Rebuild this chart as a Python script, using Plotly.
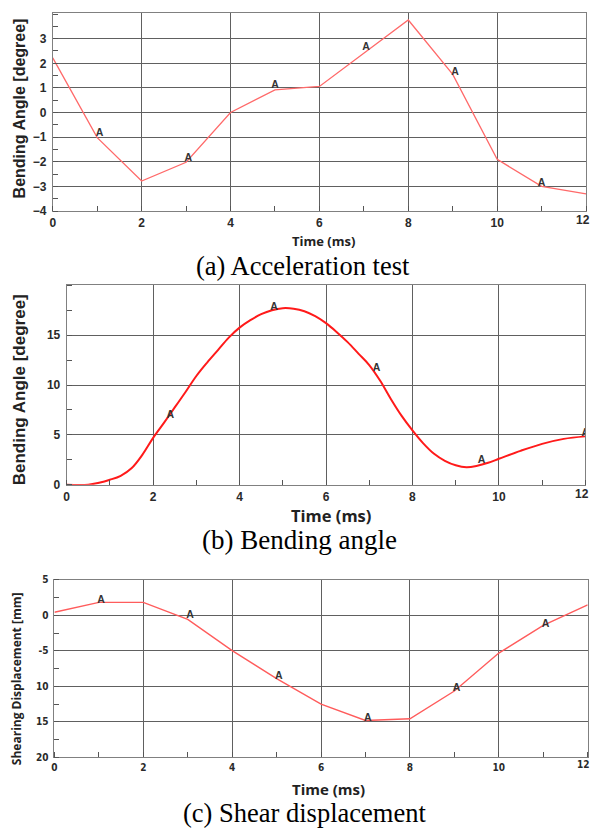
import plotly.graph_objects as go

# ---------- Panel (a): Acceleration test ----------
a_time = [0, 1, 2, 3, 4, 5, 6, 7, 8, 9, 10, 11, 12]
a_angle = [2.22, -1.02, -2.78, -2.02, 0.0, 0.92, 1.06, 2.42, 3.76, 1.55, -1.9, -3.0, -3.3]
a_lab_x = [1.05, 3.05, 5.0, 7.05, 9.05, 11.0]
a_lab_y = [-0.85, -1.85, 1.1, 2.65, 1.62, -2.88]

# ---------- Panel (b): Bending angle ----------
b_time = [0, 0.5, 0.75, 1.0, 1.25, 1.5, 1.75, 2.0, 2.25, 2.5, 2.75, 3.0, 3.25, 3.5, 3.75,
          4.0, 4.25, 4.5, 4.75, 5.0, 5.25, 5.5, 5.75, 6.0, 6.25, 6.5, 6.75, 7.0, 7.25,
          7.5, 7.75, 8.0, 8.25, 8.5, 8.75, 9.0, 9.25, 9.5, 9.75, 10.0, 10.5, 11.0, 11.5, 12.0]
b_angle = [0.0, 0.0, 0.2, 0.5, 0.9, 1.65, 3.0, 4.7, 6.2, 7.75, 9.3, 10.9, 12.25, 13.5, 14.75,
           15.75, 16.5, 17.1, 17.5, 17.7, 17.65, 17.4, 16.9, 16.2, 15.3, 14.3, 13.15, 12.0, 10.45,
           8.6, 6.9, 5.45, 4.15, 3.1, 2.4, 1.95, 1.75, 1.9, 2.2, 2.6, 3.4, 4.1, 4.6, 4.85]
b_lab_x = [2.4, 4.8, 7.17, 9.6, 12.0]
b_lab_y = [7.0, 17.8, 11.7, 2.4, 5.1]

# ---------- Panel (c): Shear displacement ----------
c_time = [0, 1, 2, 3, 4, 5, 6, 7, 8, 9, 10, 11, 12]
c_disp = [0.45, 1.85, 1.85, -0.55, -4.95, -8.9, -12.5, -14.8, -14.55, -10.65, -5.3, -1.4, 1.5]
c_lab_x = [1.05, 3.05, 5.05, 7.05, 9.05, 11.05]
c_lab_y = [2.15, -0.05, -8.6, -14.45, -10.3, -1.2]
c_ytick_vals = [5, 0, -5, -10, -15, -20]
c_ytick_text = ["5", "0", "-5", "10", "15", "20"]

x_ticks = [0, 2, 4, 6, 8, 10, 12]
x_tick_text = ["0", "2", "4", "6", "8", "10", "12"]

fig = go.Figure()

lab_font = dict(family="Arial", size=10.5, color="#333333", weight="bold")

fig.add_trace(go.Scatter(x=a_time, y=a_angle, mode="lines",
                         line=dict(color="#ff6a6a", width=1.3), xaxis="x", yaxis="y"))
fig.add_trace(go.Scatter(x=a_lab_x, y=a_lab_y, mode="text", text=["A"] * len(a_lab_x),
                         textfont=lab_font, xaxis="x", yaxis="y"))

fig.add_trace(go.Scatter(x=b_time, y=b_angle, mode="lines", line_shape="spline",
                         line=dict(color="#ff1a1a", width=2), xaxis="x2", yaxis="y2"))
fig.add_trace(go.Scatter(x=b_lab_x, y=b_lab_y, mode="text", text=["A"] * len(b_lab_x),
                         textfont=lab_font, xaxis="x2", yaxis="y2"))

fig.add_trace(go.Scatter(x=c_time, y=c_disp, mode="lines",
                         line=dict(color="#ff5c5c", width=1.4), xaxis="x3", yaxis="y3"))
fig.add_trace(go.Scatter(x=c_lab_x, y=c_lab_y, mode="text", text=["A"] * len(c_lab_x),
                         textfont=lab_font, xaxis="x3", yaxis="y3"))

grid = "#606060"
border = "#808080"
tickf = dict(family="Arial", size=12, color="#2a2a2a", weight="bold")
tickf_c = dict(family="DejaVu Sans Condensed, DejaVu Sans", size=10, color="#2a2a2a", weight="bold")


def xax(domain, anchor, font):
    return dict(domain=domain, anchor=anchor, range=[0, 12], tickvals=x_ticks,
                ticktext=x_tick_text,
                showgrid=True, gridcolor=grid, gridwidth=1, zeroline=False,
                showline=True, mirror=True, linecolor=border, linewidth=1,
                ticks="", tickfont=font, ticklabelstandoff=1,
                minor=dict(ticks="inside", ticklen=5, tickcolor="#555555", dtick=1, tick0=0,
                           showgrid=False))


def yax(domain, anchor, rng, vals, minor_dt, font, text=None):
    d = dict(domain=domain, anchor=anchor, range=rng, tickvals=vals,
             showgrid=True, gridcolor=grid, gridwidth=1, zeroline=False,
             showline=True, mirror=True, linecolor=border, linewidth=1,
             ticks="", tickfont=font, ticklabelstandoff=3,
             minor=dict(ticks="inside", ticklen=5, tickcolor="#555555", dtick=minor_dt,
                        tick0=0, showgrid=False))
    if text is not None:
        d["ticktext"] = text
    return d


fig.update_layout(
    width=592, height=838, margin=dict(l=0, r=0, t=0, b=0),
    paper_bgcolor="white", plot_bgcolor="white", showlegend=False,
    xaxis=xax([0.0845, 0.9899], "y", tickf),
    yaxis=yax([0.7506, 0.9905], "x", [-4, 4.05], [-4, -3, -2, -1, 0, 1, 2, 3], 0.5, tickf),
    xaxis2=xax([0.1081, 0.9887], "y2", tickf),
    yaxis2=yax([0.4192, 0.6607], "x2", [0, 20], [0, 5, 10, 15], 2.5, tickf),
    xaxis3=xax([0.0873, 0.9927], "y3", tickf_c),
    yaxis3=yax([0.0891, 0.3039], "x3", [-20, 5], c_ytick_vals, 2.5, tickf_c, c_ytick_text),
)

H = 838.0


def py(pix):
    return 1 - pix / H


anns = [
    # y-axis titles
    dict(text="Bending Angle [degree]", x=17 / 592, y=py(105), textangle=-90,
         font=dict(family="Arial", size=16, color="#222222", weight="bold")),
    dict(text="Bending Angle [degree]", x=17 / 592, y=py(390), textangle=-90,
         font=dict(family="Arial", size=17, color="#222222", weight="bold")),
    dict(text="Shearing Displacement [mm]", x=13 / 592, y=py(683), textangle=-90,
         font=dict(family="Open Sans", size=12, color="#222222", weight="bold")),
    # x-axis titles
    dict(text="Time (ms)", x=322 / 592, y=py(239),
         font=dict(family="Open Sans", size=13, color="#222222", weight="bold")),
    dict(text="Time (ms)", x=330 / 592, y=py(518),
         font=dict(family="Open Sans", size=16.5, color="#222222", weight="bold")),
    dict(text="Time (ms)", x=327 / 592, y=py(795),
         font=dict(family="Open Sans", size=15, color="#222222", weight="bold")),
    # captions
    dict(text="(a) Acceleration test", x=302 / 592, y=py(265),
         font=dict(family="Liberation Serif", size=26.5, color="black")),
    dict(text="(b) Bending angle", x=298 / 592, y=py(543),
         font=dict(family="Liberation Serif", size=27, color="black")),
    dict(text="(c) Shear displacement", x=303 / 592, y=py(820),
         font=dict(family="Liberation Serif", size=26.5, color="black")),
]
for a in anns:
    a.update(xref="paper", yref="paper", showarrow=False, xanchor="center", yanchor="middle")

# last x tick label ("12") sits at the right page edge; draw it kept inside the page
edge_labels = [("x", "y", -4, tickf, 5), ("x2", "y2", 0, tickf, 5), ("x3", "y3", -20, tickf_c, 3)]
for xr, yr, ybase, fnt, xs in edge_labels:
    anns.append(dict(text=x_tick_text[-1], x=x_ticks[-1], y=ybase, xref=xr, yref=yr,
                     showarrow=False, xanchor="right", yanchor="top", xshift=xs, yshift=-1,
                     font=fnt, borderpad=0))

fig.update_layout(annotations=anns)

fig.write_html("out.html", config={"displayModeBar": False},
               post_script="document.body.style.margin='0';")
